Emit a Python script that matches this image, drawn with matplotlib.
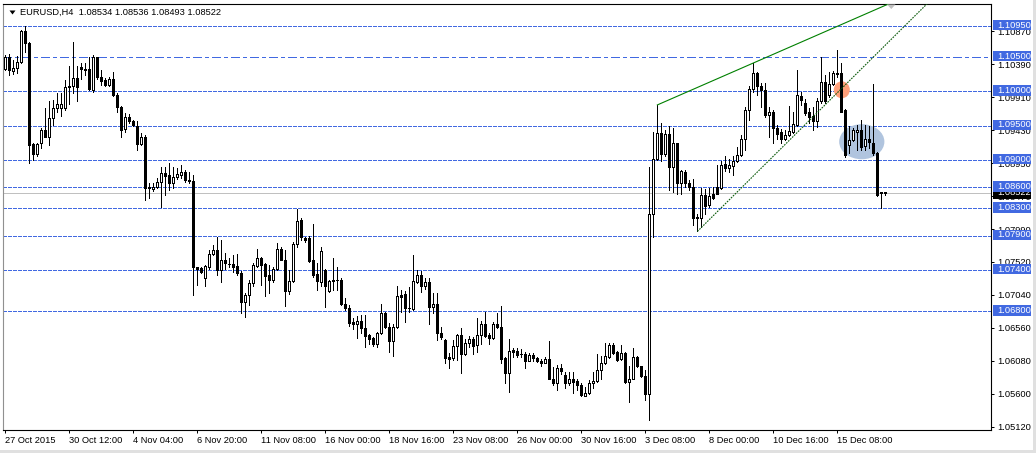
import numpy as np
import matplotlib
matplotlib.use("Agg")
import matplotlib.pyplot as plt
from matplotlib.patches import Rectangle, Ellipse, Polygon
from matplotlib.transforms import blended_transform_factory

# EURUSD H4 candles, 27 Oct 2015 - 16 Dec 2015
opens = [1.1032, 1.1050, 1.1030, 1.1033, 1.1043, 1.1088, 1.1070, 1.0923, 1.0908, 1.0924,
         1.0944, 1.0934, 1.0961, 1.0975, 1.0976, 1.0976, 1.1008, 1.1008, 1.1019, 1.1035,
         1.1032, 1.1032, 1.1002, 1.1049, 1.1020, 1.1016, 1.1009, 1.1017, 1.0994, 1.0977,
         1.0945, 1.0962, 1.0956, 1.0949, 1.0923, 1.0934, 1.0859, 1.0857, 1.0860, 1.0868,
         1.0881, 1.0878, 1.0867, 1.0875, 1.0878, 1.0882, 1.0871, 1.0870, 1.0744, 1.0743,
         1.0728, 1.0745, 1.0763, 1.0769, 1.0740, 1.0755, 1.0749, 1.0748, 1.0746, 1.0735,
         1.0694, 1.0704, 1.0721, 1.0746, 1.0757, 1.0748, 1.0733, 1.0726, 1.0741, 1.0771,
         1.0755, 1.0710, 1.0724, 1.0778, 1.0813, 1.0786, 1.0786, 1.0754, 1.0734, 1.0723,
         1.0740, 1.0710, 1.0724, 1.0726, 1.0726, 1.0691, 1.0684, 1.0665, 1.0661, 1.0666,
         1.0656, 1.0645, 1.0641, 1.0633, 1.0648, 1.0678, 1.0657, 1.0637, 1.0657, 1.0704,
         1.0705, 1.0685, 1.0683, 1.0723, 1.0733, 1.0716, 1.0723, 1.0686, 1.0691, 1.0648,
         1.0638, 1.0613, 1.0612, 1.0629, 1.0645, 1.0618, 1.0634, 1.0639, 1.0631, 1.0645,
         1.0661, 1.0645, 1.0641, 1.0662, 1.0657, 1.0612, 1.0590, 1.0624, 1.0622, 1.0618,
         1.0618, 1.0608, 1.0616, 1.0612, 1.0608, 1.0605, 1.0610, 1.0582, 1.0576, 1.0597,
         1.0587, 1.0576, 1.0582, 1.0578, 1.0573, 1.0557, 1.0561, 1.0575, 1.0579, 1.0594,
         1.0604, 1.0613, 1.0631, 1.0620, 1.0610, 1.0619, 1.0577, 1.0582, 1.0614, 1.0600,
         1.0586, 1.0560, 1.0822, 1.0901, 1.0939, 1.0909, 1.0937, 1.0889, 1.0924, 1.0867,
         1.0882, 1.0867, 1.0860, 1.0817, 1.0815, 1.0849, 1.0834, 1.0851, 1.0860, 1.0859,
         1.0894, 1.0888, 1.0891, 1.0899, 1.0907, 1.0930, 1.0972, 1.1003, 1.1026, 1.1007,
         1.1002, 1.0965, 1.0970, 1.0946, 1.0941, 1.0931, 1.0936, 1.0941, 1.0951, 1.0993,
         1.0983, 1.0970, 1.0964, 1.0957, 1.0985, 1.1014, 1.0994, 1.1011, 1.1027, 1.1026,
         1.0973, 1.0922, 1.0929, 1.0941, 1.0943, 1.0920, 1.0931, 1.0924, 1.0910, 1.0852,
         1.08534]
highs = [1.1053, 1.1054, 1.1046, 1.1051, 1.1089, 1.1095, 1.1071, 1.0924, 1.0925, 1.0946,
         1.0975, 1.0986, 1.0987, 1.0997, 1.0998, 1.1016, 1.1036, 1.1071, 1.1036, 1.1041,
         1.1041, 1.1049, 1.1053, 1.1050, 1.1031, 1.1019, 1.1020, 1.1028, 1.0997, 1.0978,
         1.0968, 1.0967, 1.0958, 1.0956, 1.0939, 1.0936, 1.0866, 1.0866, 1.0873, 1.0890,
         1.0890, 1.0896, 1.0890, 1.0888, 1.0892, 1.0885, 1.0883, 1.0878, 1.0745, 1.0745,
         1.0747, 1.0769, 1.0776, 1.0788, 1.0784, 1.0764, 1.0757, 1.0762, 1.0763, 1.0739,
         1.0707, 1.0725, 1.0750, 1.0771, 1.0759, 1.0750, 1.0747, 1.0744, 1.0779, 1.0774,
         1.0769, 1.0740, 1.0780, 1.0829, 1.0815, 1.0788, 1.0789, 1.0807, 1.0750, 1.0773,
         1.0742, 1.0726, 1.0757, 1.0744, 1.0729, 1.0699, 1.0689, 1.0670, 1.0673, 1.0674,
         1.0674, 1.0647, 1.0643, 1.0650, 1.0691, 1.0679, 1.0663, 1.0662, 1.0716, 1.0711,
         1.0710, 1.0715, 1.0762, 1.0740, 1.0739, 1.0728, 1.0728, 1.0706, 1.0707, 1.0657,
         1.0639, 1.0619, 1.0638, 1.0647, 1.0655, 1.0639, 1.0644, 1.0643, 1.0670, 1.0666,
         1.0679, 1.0649, 1.0665, 1.0677, 1.0688, 1.0614, 1.0639, 1.0626, 1.0626, 1.0625,
         1.0621, 1.0619, 1.0619, 1.0614, 1.0610, 1.0614, 1.0637, 1.0599, 1.0602, 1.0603,
         1.0592, 1.0591, 1.0592, 1.0582, 1.0575, 1.0570, 1.0580, 1.0592, 1.0618, 1.0615,
         1.0634, 1.0634, 1.0634, 1.0622, 1.0631, 1.0620, 1.0600, 1.0626, 1.0615, 1.0601,
         1.0594, 1.0890, 1.0941, 1.0980, 1.0954, 1.0944, 1.0949, 1.0947, 1.0925, 1.0886,
         1.0886, 1.0871, 1.0872, 1.0821, 1.0859, 1.0858, 1.0859, 1.0861, 1.0893, 1.0899,
         1.0905, 1.0902, 1.0905, 1.0919, 1.0936, 1.0977, 1.1008, 1.1041, 1.1028, 1.1012,
         1.1012, 1.0977, 1.0973, 1.0951, 1.0945, 1.0944, 1.0978, 1.0970, 1.1031, 1.0999,
         1.0988, 1.0975, 1.0977, 1.0990, 1.1049, 1.1024, 1.1028, 1.1030, 1.1060, 1.1041,
         1.0974, 1.0949, 1.0946, 1.0951, 1.0958, 1.0951, 1.0949, 1.1011, 1.0912, 1.0854,
         1.08536]
lows = [1.1031, 1.1024, 1.1025, 1.1026, 1.1041, 1.1057, 1.0895, 1.0900, 1.0905, 1.0917,
        1.0933, 1.0922, 1.0951, 1.0970, 1.0964, 1.0973, 1.0982, 1.0998, 1.0985, 1.1017,
        1.1024, 1.1002, 1.0999, 1.1017, 1.1009, 1.1008, 1.1008, 1.0993, 1.0969, 1.0934,
        1.0941, 1.0953, 1.0949, 1.0915, 1.0922, 1.0842, 1.0844, 1.0855, 1.0859, 1.0832,
        1.0849, 1.0856, 1.0859, 1.0872, 1.0873, 1.0868, 1.0866, 1.0704, 1.0718, 1.0735,
        1.0717, 1.0742, 1.0762, 1.0733, 1.0723, 1.0742, 1.0745, 1.0737, 1.0733, 1.0678,
        1.0672, 1.0689, 1.0716, 1.0745, 1.0718, 1.0702, 1.0706, 1.0723, 1.0740, 1.0754,
        1.0688, 1.0705, 1.0723, 1.0774, 1.0784, 1.0781, 1.0752, 1.0730, 1.0711, 1.0717,
        1.0686, 1.0708, 1.0711, 1.0711, 1.0689, 1.0682, 1.0658, 1.0654, 1.0641, 1.0649,
        1.0628, 1.0633, 1.0629, 1.0628, 1.0647, 1.0655, 1.0620, 1.0615, 1.0655, 1.0679,
        1.0665, 1.0679, 1.0682, 1.0721, 1.0708, 1.0713, 1.0662, 1.0677, 1.0638, 1.0639,
        1.0605, 1.0598, 1.0609, 1.0609, 1.0590, 1.0616, 1.0628, 1.0618, 1.0620, 1.0632,
        1.0643, 1.0633, 1.0639, 1.0655, 1.0604, 1.0576, 1.0563, 1.0614, 1.0614, 1.0614,
        1.0598, 1.0607, 1.0607, 1.0606, 1.0600, 1.0604, 1.0581, 1.0573, 1.0566, 1.0589,
        1.0568, 1.0573, 1.0561, 1.0565, 1.0556, 1.0556, 1.0560, 1.0568, 1.0577, 1.0582,
        1.0603, 1.0612, 1.0618, 1.0608, 1.0609, 1.0575, 1.0548, 1.0581, 1.0599, 1.0585,
        1.0551, 1.0522, 1.0788, 1.0900, 1.0899, 1.0905, 1.0856, 1.0854, 1.0851, 1.0850,
        1.0861, 1.0856, 1.0805, 1.0796, 1.0803, 1.0822, 1.0832, 1.0843, 1.0850, 1.0857,
        1.0884, 1.0883, 1.0878, 1.0897, 1.0905, 1.0914, 1.0958, 1.0999, 1.0994, 1.0977,
        1.0963, 1.0934, 1.0924, 1.0931, 1.0925, 1.0929, 1.0935, 1.0939, 1.0949, 1.0980,
        1.0965, 1.0954, 1.0944, 1.0948, 1.0983, 1.0983, 1.0992, 1.1009, 1.1021, 1.0969,
        1.0904, 1.0910, 1.0927, 1.0914, 1.0914, 1.0914, 1.0917, 1.0907, 1.0848, 1.0830,
        1.08493]
closes = [1.1049, 1.1031, 1.1033, 1.1043, 1.1088, 1.1070, 1.0921, 1.0908, 1.0923, 1.0944,
          1.0934, 1.0961, 1.0975, 1.0982, 1.0982, 1.1006, 1.1006, 1.1019, 1.1006, 1.1032,
          1.1031, 1.1003, 1.1049, 1.1020, 1.1015, 1.1009, 1.1017, 1.0994, 1.0977, 1.0944,
          1.0962, 1.0956, 1.0951, 1.0923, 1.0934, 1.0859, 1.0860, 1.0860, 1.0868, 1.0881,
          1.0877, 1.0867, 1.0875, 1.0880, 1.0882, 1.0871, 1.0869, 1.0744, 1.0742, 1.0737,
          1.0746, 1.0763, 1.0769, 1.0740, 1.0755, 1.0750, 1.0748, 1.0745, 1.0735, 1.0694,
          1.0704, 1.0721, 1.0747, 1.0757, 1.0747, 1.0731, 1.0726, 1.0741, 1.0770, 1.0755,
          1.0710, 1.0724, 1.0778, 1.0811, 1.0788, 1.0784, 1.0753, 1.0733, 1.0724, 1.0767,
          1.0717, 1.0724, 1.0726, 1.0725, 1.0691, 1.0684, 1.0663, 1.0661, 1.0666, 1.0655,
          1.0644, 1.0639, 1.0633, 1.0649, 1.0678, 1.0657, 1.0637, 1.0657, 1.0702, 1.0701,
          1.0684, 1.0684, 1.0724, 1.0733, 1.0716, 1.0723, 1.0686, 1.0691, 1.0648, 1.0642,
          1.0612, 1.0611, 1.0629, 1.0645, 1.0618, 1.0634, 1.0639, 1.0629, 1.0645, 1.0661,
          1.0644, 1.0641, 1.0662, 1.0657, 1.0610, 1.0590, 1.0622, 1.0621, 1.0617, 1.0618,
          1.0608, 1.0616, 1.0612, 1.0608, 1.0604, 1.0610, 1.0582, 1.0576, 1.0597, 1.0593,
          1.0576, 1.0582, 1.0577, 1.0573, 1.0558, 1.0561, 1.0575, 1.0579, 1.0594, 1.0604,
          1.0615, 1.0631, 1.0619, 1.0609, 1.0619, 1.0577, 1.0582, 1.0613, 1.0600, 1.0586,
          1.0560, 1.0822, 1.0901, 1.0939, 1.0909, 1.0938, 1.0889, 1.0924, 1.0867, 1.0884,
          1.0866, 1.0860, 1.0815, 1.0815, 1.0849, 1.0833, 1.0847, 1.0844, 1.0851, 1.0893,
          1.0888, 1.0893, 1.0899, 1.0907, 1.0930, 1.0972, 1.1003, 1.1026, 1.1007, 1.1001,
          1.0965, 1.0970, 1.0946, 1.0938, 1.0931, 1.0936, 1.0942, 1.0952, 1.0994, 1.0987,
          1.0968, 1.0963, 1.0957, 1.0986, 1.1014, 1.0985, 1.1011, 1.1027, 1.1025, 1.0970,
          1.0907, 1.0929, 1.0944, 1.0943, 1.0919, 1.0930, 1.0926, 1.0910, 1.0849, 1.0853,
          1.08522]

time_tick_bars = [0, 16, 32, 48, 64, 80, 96, 112, 128, 144, 160, 176, 192, 208]
time_tick_labels = ["27 Oct 2015", "30 Oct 12:00", "4 Nov 04:00", "6 Nov 20:00",
                    "11 Nov 08:00", "16 Nov 00:00", "18 Nov 16:00", "23 Nov 08:00",
                    "26 Nov 00:00", "30 Nov 16:00", "3 Dec 08:00", "8 Dec 00:00",
                    "10 Dec 16:00", "15 Dec 08:00"]
price_ticks = [1.10870, 1.10390, 1.09910, 1.09430, 1.08950, 1.08470, 1.07990,
               1.07520, 1.07040, 1.06560, 1.06080, 1.05600, 1.05120]

levels = [1.10950, 1.10500, 1.10000, 1.09500, 1.09000, 1.08600, 1.08300,
          1.07900, 1.07400, 1.06800]
level_dashes = [(3, 2), (9, 3, 3, 3), (3, 2), (3, 2), (3, 2), (3, 2), (3, 2),
                (3, 2), (3, 2), (3, 2)]
last_price = 1.08522
header = "EURUSD,H4  1.08534 1.08536 1.08493 1.08522"

# trend lines (anchor bar, price) - both drawn as rays to the right
ray_top_bars = [163, 187]
ray_top_prices = [1.0980, 1.1041]
ray_sup_bars = [173, 203]
ray_sup_prices = [1.0796, 1.0969]

W, H = 1036, 453
FONT = "Liberation Sans"
LEVEL_BLUE = "#4169e1"

fig = plt.figure(figsize=(W / 100, H / 100), dpi=100)
fig.patch.set_facecolor("white")
ax = fig.add_axes([3 / W, 23 / H, 988 / W, 426 / H])
ax.set_xlim(-0.575, 246.4)
ax.set_ylim(1.05072, 1.11268)

# horizontal levels
for lv, ds in zip(levels, level_dashes):
    ax.axhline(lv, color=LEVEL_BLUE, lw=0.72, dashes=ds, zorder=1, antialiased=False)
ax.axhline(last_price, color="#c0c0c0", lw=0.72, zorder=1, antialiased=False)

# marked areas
ax.add_patch(Ellipse((209.1, 1.1002), 4.0, 0.00247, color="#ffa07a", lw=0, zorder=1.5))
ax.add_patch(Ellipse((214.1, 1.09265), 11.3, 0.0051, color="#b0c4de", lw=0, zorder=1.5))

# candles
x = np.arange(len(opens))
o = np.array(opens)
c = np.array(closes)
ax.vlines(x, lows, highs, color="black", lw=0.72, zorder=2, antialiased=False)
up = c >= o
ax.bar(x[up], (c - o)[up], bottom=o[up], width=0.5, facecolor="white",
       edgecolor="black", lw=0.72, zorder=3, antialiased=False)
ax.bar(x[~up], (o - c)[~up], bottom=c[~up], width=0.5, facecolor="black",
       edgecolor="black", lw=0.72, zorder=3, antialiased=False)

# trend rays
def ray(bars, prices):
    slope = (prices[1] - prices[0]) / (bars[1] - bars[0])
    xe = 250
    return [bars[0], xe], [prices[0], prices[0] + slope * (xe - bars[0])]

rx, ry = ray(ray_top_bars, ray_top_prices)
ax.plot(rx, ry, color="#008000", lw=0.8, zorder=4)
rx, ry = ray(ray_sup_bars, ray_sup_prices)
ax.plot(rx, ry, color="#0b5a0b", lw=0.8, dashes=(1.5, 1.0), zorder=4)

# axes styling
for side in ["top", "right", "bottom"]:
    ax.spines[side].set_color("black")
    ax.spines[side].set_linewidth(0.8)
ax.spines["left"].set_color("#909090")
ax.spines["left"].set_linewidth(0.8)

ax.yaxis.tick_right()
ax.set_yticks(price_ticks)
ax.set_yticklabels(["%.5f" % p for p in price_ticks], fontfamily=FONT, fontsize=6.7)
ax.tick_params(axis="y", direction="out", length=2.2, width=0.72, pad=2.0)
ax.set_xticks(time_tick_bars)
ax.set_xticklabels(time_tick_labels, fontfamily=FONT, fontsize=6.7, ha="left")
ax.tick_params(axis="x", direction="out", length=2.2, width=0.72, pad=1.9)

# price labels on the right scale
bt = blended_transform_factory(fig.transFigure, ax.transData)
px = 0.00014545  # price per pixel
ax.add_patch(Rectangle((993 / W, last_price - 6 * px), 38 / W, 12 * px, transform=bt,
                       facecolor="black", edgecolor="none", clip_on=False, zorder=9))
ax.text(997 / W, last_price, "%.5f" % last_price, transform=bt, color="white",
        fontfamily=FONT, fontsize=6.7, va="center", ha="left", clip_on=False, zorder=9.5)
for lv in levels:
    ax.add_patch(Rectangle((993 / W, lv - 4.5 * px), 38 / W, 10.5 * px, transform=bt,
                           facecolor=LEVEL_BLUE, edgecolor="none", clip_on=False, zorder=10))
    ax.text(997 / W, lv + 0.6 * px, "%.5f" % lv, transform=bt, color="white",
            fontfamily=FONT, fontsize=6.7, va="center", ha="left", clip_on=False, zorder=11)

# header
fig.patches.append(Polygon([(9.5 / W, 1 - 10.5 / H), (15.5 / W, 1 - 10.5 / H),
                            (12.5 / W, 1 - 14.5 / H)], closed=True, transform=fig.transFigure,
                           facecolor="black", edgecolor="none"))
fig.text(20 / W, 1 - 12.5 / H, header, fontfamily=FONT, fontsize=6.7, va="center", ha="left")

# chart shift marker
fig.patches.append(Polygon([(887 / W, 1 - 4.5 / H), (895.5 / W, 1 - 4.5 / H),
                            (891.3 / W, 1 - 9 / H)], closed=True, transform=fig.transFigure,
                           facecolor="#c0c0c0", edgecolor="none"))

# window frame
fig.patches.append(Rectangle((1033 / W, 0), 3 / W, 1, transform=fig.transFigure,
                             facecolor="#e0e0e0", edgecolor="none"))
fig.patches.append(Rectangle((0, 0), 1, 3 / H, transform=fig.transFigure,
                             facecolor="#e0e0e0", edgecolor="none"))

fig.savefig("out.png", dpi=100)
